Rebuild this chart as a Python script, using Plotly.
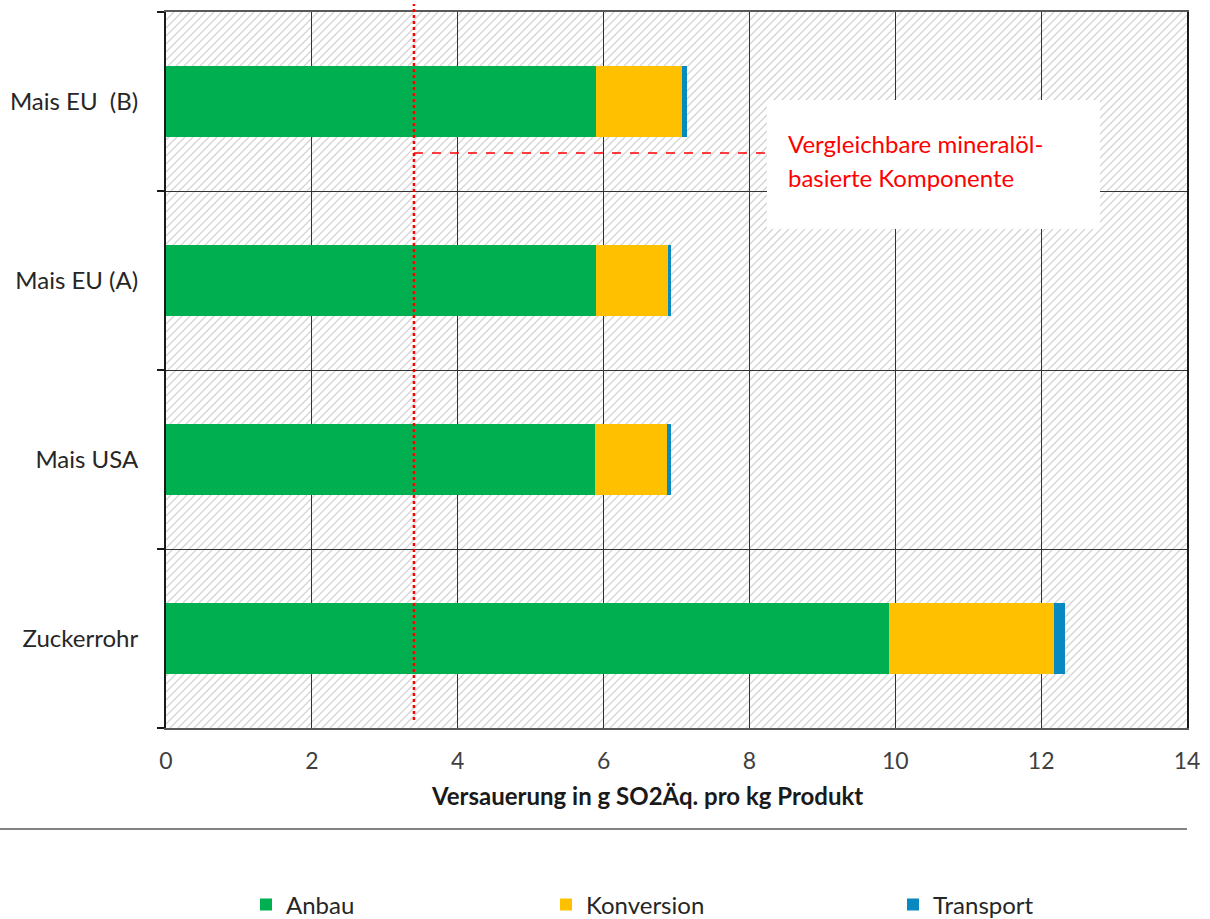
import plotly.graph_objects as go

# ---- data ----
categories = ["Zuckerrohr", "Mais USA", "Mais EU (A)", "Mais EU  (B)"]
anbau = [9.92, 5.88, 5.90, 5.90]
konversion = [2.25, 0.99, 0.98, 1.17]
transport = [0.16, 0.05, 0.05, 0.08]
reference_value = 3.40
x_ticks = [0, 2, 4, 6, 8, 10, 12, 14]
x_title = "Versauerung in g SO2Äq. pro kg Produkt"
note_lines = ["Vergleichbare mineralöl-", "basierte Komponente"]

W, H = 1210, 919
ML, MR, MT, MB = 166, 23, 12, 191
PW, PH = W - ML - MR, H - MT - MB

font_family = "Lato, 'Open Sans', sans-serif"
ypos = list(range(len(categories)))

fig = go.Figure()
series = [("Anbau", anbau, "#00B050", "legend"),
          ("Konversion", konversion, "#FFC000", "legend2"),
          ("Transport", transport, "#0A88C0", "legend3")]
for name, vals, col, lg in series:
    fig.add_trace(go.Bar(
        name=name, y=ypos, x=vals, orientation="h",
        marker=dict(color=col, line=dict(width=0)),
        width=0.40, legend=lg, showlegend=True,
    ))

# ---- hatch background (decoration) ----
step = 8
segs = []
c = -PH
while c < PW:
    t0 = max(0, -c)
    t1 = min(PH, PW - c)
    if t1 > t0:
        x0, y0 = (c + t0) / PW, t0 / PH
        x1, y1 = (c + t1) / PW, t1 / PH
        segs.append(f"M {x0:.5f} {y0:.5f} L {x1:.5f} {y1:.5f}")
    c += step
shapes = [dict(type="path", xref="paper", yref="paper", path=" ".join(segs),
               line=dict(color="#d4d4d4", width=1.3), layer="below")]

# white comment box
ux = PW / 14
box_x0, box_x1 = (767 - ML) / ux, (1100 - ML) / ux
shapes.append(dict(type="rect", xref="x", yref="y", x0=box_x0, x1=box_x1,
                   y0=2.288, y1=3.008, fillcolor="white", line=dict(width=0),
                   layer="above"))
# dashed connector
shapes.append(dict(type="line", xref="x", yref="y", x0=reference_value, x1=box_x0,
                   y0=2.712, y1=2.712, line=dict(color="#ff0000", width=1.5, dash="dash"),
                   layer="above"))
# dotted reference line
shapes.append(dict(type="line", xref="x", yref="paper", x0=reference_value, x1=reference_value,
                   y0=0.011, y1=1.011, line=dict(color="#ff0000", width=2.5, dash="dot"),
                   layer="above"))
# separator line below axis
shapes.append(dict(type="line", xref="paper", yref="paper", x0=-ML / PW, x1=1.0,
                   y0=(728 - 829) / PH, y1=(728 - 829) / PH,
                   line=dict(color="#595959", width=1.5)))

annotations = []
for txt, yv in zip(note_lines, [2.768, 2.573]):
    annotations.append(dict(xref="x", yref="y", x=(786 - ML) / ux, y=yv, text=txt,
                            showarrow=False, xanchor="left", yanchor="middle", align="left",
                            font=dict(family=font_family, size=24, color="#ff0000")))
annotations.append(dict(xref="paper", yref="paper", x=(647 - ML) / PW, y=(728 - 795) / PH,
                        text=f"<b>{x_title}</b>", showarrow=False,
                        xanchor="center", yanchor="middle",
                        font=dict(family=font_family, size=24, color="#1a1a1a")))

legend_common = dict(orientation="h", yanchor="middle", xanchor="left",
                     xref="container", yref="container",
                     font=dict(family=font_family, size=24, color="#262626"),
                     bgcolor="rgba(0,0,0,0)", itemclick=False, borderwidth=0)
leg_y = (H - 905) / H

fig.update_layout(
    width=W, height=H,
    margin=dict(l=ML, r=MR, t=MT, b=MB, autoexpand=False),
    paper_bgcolor="white", plot_bgcolor="rgba(0,0,0,0)",
    barmode="stack", showlegend=True,
    font=dict(family=font_family, size=23, color="#404040"),
    shapes=shapes, annotations=annotations,
    legend=dict(x=246 / W, y=leg_y, **legend_common),
    legend2=dict(x=546 / W, y=leg_y, **legend_common),
    legend3=dict(x=893 / W, y=leg_y, **legend_common),
    xaxis=dict(range=[0, 14], tickvals=x_ticks, showgrid=True, gridcolor="#333333",
               gridwidth=1, zeroline=False, showline=True, linecolor="#595959",
               linewidth=1.5, mirror=True, ticks="", ticklabelstandoff=12,
               tickfont=dict(size=23, color="#404040")),
    yaxis=dict(range=[-0.5, 3.5], tickmode="array", tickvals=ypos, ticktext=categories,
               showgrid=False, zeroline=False, showline=True, linecolor="#1a1a1a",
               linewidth=2, mirror=True, ticks="", ticklabelstandoff=21,
               tickfont=dict(size=24, color="#262626"),
               minor=dict(tickmode="array", tickvals=[-0.5, 0.5, 1.5, 2.5, 3.5],
                          showgrid=True, gridcolor="#333333", gridwidth=1,
                          ticks="outside", ticklen=7, tickwidth=2, tickcolor="#1a1a1a")),
)

fig.write_html("out.html", config={"displayModeBar": False},
               post_script="document.body.style.margin='0px';")
